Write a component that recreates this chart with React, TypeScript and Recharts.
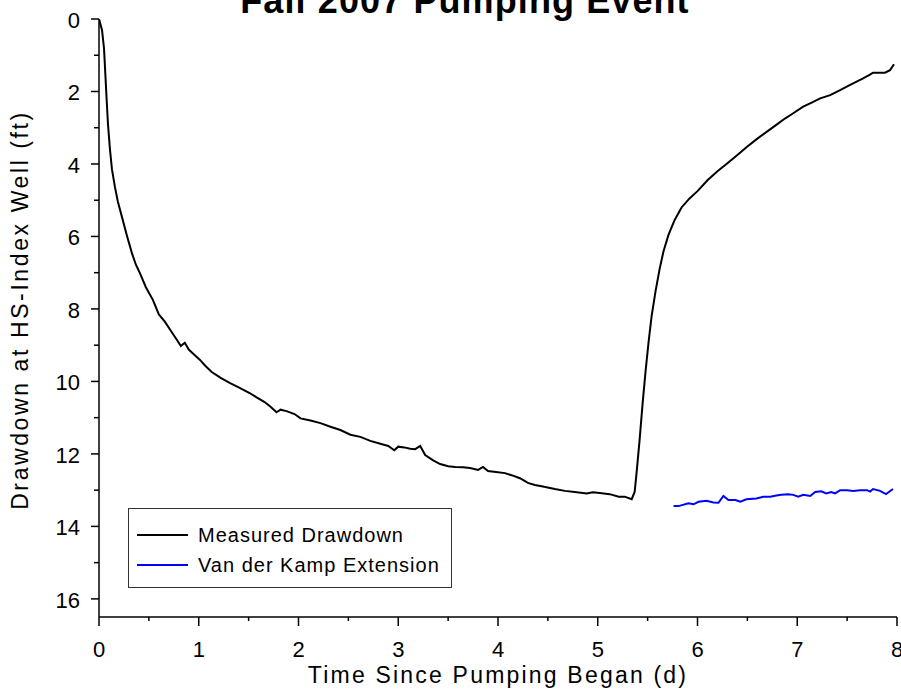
import React from 'react';
import { LineChart, Line, XAxis, YAxis, Legend } from 'recharts';

const FONT = '"Liberation Sans", Arial, Helvetica, sans-serif';

// Measured drawdown (time in days, drawdown in ft)
const measuredTime = [
  0, 0.003, 0.03, 0.05, 0.065, 0.077, 0.09, 0.11, 0.13, 0.16, 0.19, 0.23, 0.28, 0.33, 0.37, 0.41,
  0.47, 0.54, 0.6, 0.66, 0.72, 0.78, 0.82, 0.86, 0.9, 0.95, 1.01, 1.07, 1.13, 1.22, 1.31, 1.41,
  1.51, 1.58, 1.66, 1.72, 1.78, 1.82, 1.88, 1.96, 2.02, 2.12, 2.22, 2.32, 2.42, 2.52, 2.62, 2.72,
  2.82, 2.9, 2.96, 3.0, 3.06, 3.12, 3.17, 3.22, 3.27, 3.35, 3.42, 3.5, 3.57, 3.65, 3.72, 3.8,
  3.85, 3.9, 3.98, 4.07, 4.15, 4.22, 4.3, 4.37, 4.45, 4.57, 4.67, 4.77, 4.89, 4.95, 5.02, 5.12,
  5.21, 5.27, 5.34, 5.37, 5.39, 5.42, 5.45, 5.48, 5.51, 5.54, 5.58, 5.62, 5.66, 5.71, 5.77, 5.84,
  5.92, 6.0, 6.1, 6.2, 6.3, 6.4, 6.5, 6.6, 6.7, 6.8, 6.88, 6.96, 7.06, 7.15, 7.23, 7.33,
  7.43, 7.53, 7.6, 7.66, 7.72, 7.76, 7.82, 7.88, 7.93, 7.97,
];
const measuredDrawdown = [
  0, 0.03, 0.3, 0.8, 1.6, 2.24, 2.9, 3.6, 4.15, 4.64, 5.05, 5.46, 5.98, 6.46, 6.78, 7.01,
  7.4, 7.75, 8.15, 8.35, 8.6, 8.85, 9.02, 8.93, 9.12, 9.25, 9.4, 9.58, 9.74, 9.9, 10.04, 10.18,
  10.32, 10.44, 10.57, 10.7, 10.85, 10.78, 10.82, 10.9, 11.02, 11.08, 11.15, 11.25, 11.34, 11.47, 11.53, 11.64,
  11.72, 11.78, 11.9, 11.8, 11.82, 11.86, 11.87, 11.78, 12.03, 12.18, 12.28, 12.34, 12.36, 12.37, 12.39, 12.44,
  12.36, 12.47, 12.5, 12.53, 12.6, 12.67, 12.8, 12.86, 12.9, 12.97, 13.02, 13.05, 13.09, 13.06, 13.08, 13.11,
  13.18, 13.18, 13.25, 13.05, 12.5, 11.6, 10.6, 9.7, 8.9, 8.2, 7.5, 6.9, 6.4, 5.95, 5.55, 5.2,
  4.95, 4.75, 4.45, 4.2, 3.98, 3.75, 3.52, 3.3, 3.1, 2.9, 2.74, 2.6, 2.42, 2.3, 2.19, 2.1,
  1.96, 1.82, 1.72, 1.64, 1.55, 1.48, 1.48, 1.48, 1.41, 1.25,
];

// Van der Kamp extension
const extensionTime = [
  5.76, 5.81, 5.91, 5.96, 6.01, 6.09, 6.16, 6.21, 6.26, 6.31, 6.38, 6.43, 6.49, 6.59, 6.66, 6.73,
  6.79, 6.84, 6.91, 6.96, 7.01, 7.06, 7.13, 7.18, 7.24, 7.29, 7.34, 7.38, 7.43, 7.5, 7.56, 7.63,
  7.7, 7.73, 7.76, 7.83, 7.89, 7.96,
];
const extensionDrawdown = [
  13.44, 13.44, 13.36, 13.39, 13.32, 13.29, 13.34, 13.35, 13.16, 13.27, 13.27, 13.32, 13.25, 13.23, 13.18, 13.18,
  13.15, 13.13, 13.11, 13.13, 13.18, 13.13, 13.16, 13.05, 13.03, 13.09, 13.05, 13.09, 13.0, 13.0, 13.02, 13.0,
  13.0, 13.04, 12.97, 13.02, 13.11, 12.97,
];

const xTicks = [0, 0.5, 1, 1.5, 2, 2.5, 3, 3.5, 4, 4.5, 5, 5.5, 6, 6.5, 7, 7.5, 8];
const yTicks = [0, 1, 2, 3, 4, 5, 6, 7, 8, 9, 10, 11, 12, 13, 14, 15, 16];

const chartTitle = 'Fall 2007 Pumping Event';
const xTitle = 'Time Since Pumping Began (d)';
const yTitle = 'Drawdown at HS-Index Well (ft)';
const seriesNames = ['Measured Drawdown', 'Van der Kamp Extension'];
const seriesColors = ['#000000', '#0000ff'];

const measuredData = measuredTime.map((t, i) => ({ t, d: measuredDrawdown[i] }));
const extensionData = extensionTime.map((t, i) => ({ t, d: extensionDrawdown[i] }));

const TICK_OFFSET = 12; // tickSize + tickMargin

function XTick(props: any) {
  const { x, y, payload } = props;
  const v = payload.value as number;
  const major = Number.isInteger(v);
  const axisY = y - TICK_OFFSET;
  return (
    <g>
      <line x1={x} x2={x} y1={axisY} y2={axisY + (major ? 9 : 4)} stroke="#000" strokeWidth={1.5} />
      {major && (
        <text x={x} y={axisY + 40} textAnchor="middle" fontSize={22} fontFamily={FONT} fill="#000">
          {v}
        </text>
      )}
    </g>
  );
}

function YTick(props: any) {
  const { x, y, payload } = props;
  const v = payload.value as number;
  const major = v % 2 === 0;
  const axisX = x + TICK_OFFSET;
  return (
    <g>
      <line x1={axisX - (major ? 8 : 5)} x2={axisX} y1={y} y2={y} stroke="#000" strokeWidth={1.5} />
      {major && (
        <text x={axisX - 19} y={y + 9} textAnchor="end" fontSize={22} fontFamily={FONT} fill="#000">
          {v}
        </text>
      )}
    </g>
  );
}

function XTitle() {
  return (
    <g>
      <text x={498} y={683} textAnchor="middle" fontSize={23} letterSpacing={2.2} fontFamily={FONT} fill="#000">
        {xTitle}
      </text>
      <text x={465} y={12.5} textAnchor="middle" fontSize={36} fontWeight="bold" letterSpacing={1.1} fontFamily={FONT} fill="#000">
        {chartTitle}
      </text>
    </g>
  );
}

function YTitle() {
  return (
    <text
      transform="rotate(-90)"
      x={-310}
      y={28}
      textAnchor="middle"
      fontSize={23}
      letterSpacing={2.6}
      fontFamily={FONT}
      fill="#000"
    >
      {yTitle}
    </text>
  );
}

function LegendBox() {
  return (
    <div
      style={{
        width: 324,
        height: 80,
        border: '1px solid #333',
        boxSizing: 'border-box',
        background: '#fff',
      }}
    >
      <svg width={322} height={78} style={{ display: 'block' }}>
        {seriesNames.map((name, i) => (
          <g key={name}>
            <line x1={8} x2={59} y1={26 + i * 30} y2={26 + i * 30} stroke={seriesColors[i]} strokeWidth={2} />
            <text x={69} y={33 + i * 30} fontSize={20} letterSpacing={1} fontFamily={FONT} fill="#000">
              {name}
            </text>
          </g>
        ))}
      </svg>
    </div>
  );
}

export default function App() {
  return (
    <div style={{ position: 'absolute', left: 0, top: 0, width: 901, height: 694, background: '#fff' }}>
      <LineChart width={901} height={694} margin={{ top: 19, right: 4, bottom: 0, left: 0 }}>
        <XAxis
          type="number"
          dataKey="t"
          domain={[0, 8]}
          ticks={xTicks}
          interval={0}
          height={77}
          tickSize={8}
          tickMargin={4}
          tickLine={false}
          axisLine={{ stroke: '#000', strokeWidth: 1.5 }}
          tick={<XTick />}
          label={<XTitle />}
          allowDataOverflow
        />
        <YAxis
          type="number"
          dataKey="d"
          domain={[0, 16.5]}
          reversed
          ticks={yTicks}
          interval={0}
          width={99}
          tickSize={8}
          tickMargin={4}
          tickLine={false}
          axisLine={{ stroke: '#000', strokeWidth: 1.5 }}
          tick={<YTick />}
          label={<YTitle />}
          allowDataOverflow
        />
        <Legend
          layout="vertical"
          align="center"
          verticalAlign="middle"
          content={<LegendBox />}
          wrapperStyle={{ position: 'absolute', left: 128, top: 508, width: 324, height: 80 }}
        />
        <Line
          data={measuredData}
          dataKey="d"
          name={seriesNames[0]}
          type="linear"
          stroke={seriesColors[0]}
          strokeWidth={2}
          dot={false}
          isAnimationActive={false}
        />
        <Line
          data={extensionData}
          dataKey="d"
          name={seriesNames[1]}
          type="linear"
          stroke={seriesColors[1]}
          strokeWidth={2}
          dot={false}
          isAnimationActive={false}
        />
      </LineChart>
    </div>
  );
}
